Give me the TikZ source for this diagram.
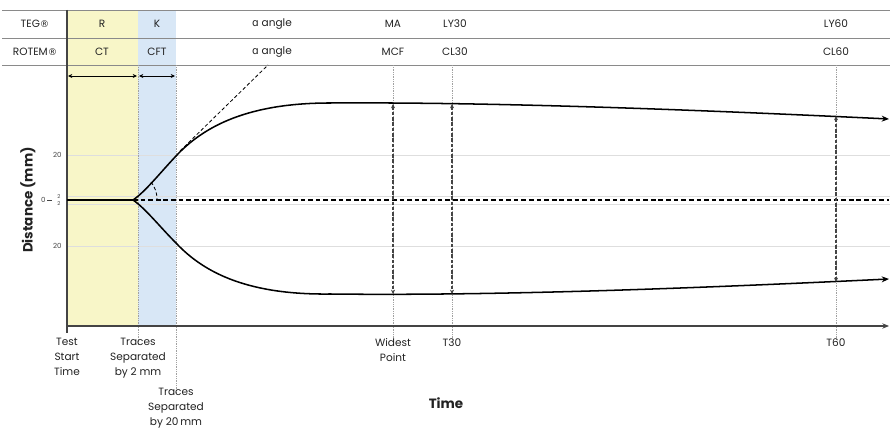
\documentclass[tikz,border=0pt]{standalone}
\usepackage{fontspec}
\setmainfont{Poppins}
\newfontfamily\greekfont{DejaVu Sans}
\usetikzlibrary{arrows.meta,positioning,calc}
\definecolor{BandYellow}{HTML}{F8F6C8}
\definecolor{BandBlue}{HTML}{D8E7F6}
\definecolor{RuleGrey}{HTML}{8A8A8A}
\definecolor{GridGrey}{HTML}{DEDEDE}
\definecolor{InkGrey}{HTML}{222222}
\definecolor{MarkGrey}{HTML}{444444}
\newcommand{\regmark}{{\greekfont\fontsize{8}{10}\selectfont ®}}

\begin{document}
\begin{tikzpicture}[
x=0.03cm, y=-0.03cm,
every node/.style={font=\fontsize{9}{12.5}\selectfont, text=InkGrey, align=center, inner sep=1pt},
ticklabel/.style={font=\fontsize{6}{7}\selectfont, text=MarkGrey},
tinylabel/.style={font=\fontsize{4.5}{5}\selectfont, text=MarkGrey, inner sep=0pt},
axistitle/.style={font=\fontsize{11.5}{14}\selectfont\bfseries},
tablerule/.style={draw=RuleGrey, line width=0.8pt},
gridline/.style={draw=GridGrey, line width=0.5pt},
guideline/.style={draw=RuleGrey!80, densely dotted, line width=0.5pt},
trace/.style={line width=1.3pt, line cap=round, -{Stealth[length=2.2mm, width=1.8mm]}},
span/.style={{Stealth[length=1.3mm, width=1.2mm]}-{Stealth[length=1.3mm, width=1.2mm]}, line width=0.5pt},
measure/.style={draw=MarkGrey, line width=0.9pt, dash pattern=on 3pt off 1.5pt, {Stealth[length=1.3mm, width=1.2mm]}-{Stealth[length=1.3mm, width=1.2mm]}},
zeroline/.style={line width=0.9pt, dash pattern=on 4pt off 2.5pt},
tangent/.style={line width=0.7pt, dash pattern=on 3pt off 2pt}
]
\useasboundingbox (0,0) rectangle (890,433);
\fill[BandYellow] (67,10) rectangle (138,326);
\fill[BandBlue] (138,10) rectangle (176,326);
\foreach \gy in {155,196,204,246} \draw[gridline] (67,\gy) -- (890,\gy);
\foreach \ry in {10,38,65} \draw[tablerule] (2,\ry) -- (890,\ry);
\draw[guideline] (138,65) -- (138,345);
\draw[guideline] (176,65) -- (176,392);
\foreach \gx in {393,452,836} \draw[guideline] (\gx,65) -- (\gx,341);

\node (teg) at (35,24) {TEG\regmark};
\node (rotem) at (35,52) {ROTEM\regmark};
\node (r) at (102,24) {R};
\node (k) at (157,24) {K};
\node (alphateg) at (272,24) {{\greekfont\char"0251} angle};
\node (ma) at (393,24) {MA};
\node (ly30) at (455,24) {LY30};
\node (ly60) at (836,24) {LY60};
\node (ct) at (102,52) {CT};
\node (cft) at (157,52) {CFT};
\node (alpharotem) at (272,52) {{\greekfont\char"0251} angle};
\node (mcf) at (393,52) {MCF};
\node (cl30) at (455,52) {CL30};
\node (cl60) at (836,52) {CL60};

\coordinate (rL) at (68,76);
\coordinate (rR) at (137,76);
\coordinate (kL) at (139,76);
\coordinate (kR) at (175,76);
\draw[span] (rL) -- (rR);
\draw[span] (kL) -- (kR);

\coordinate (origin) at (67,326);
\coordinate (timeEnd) at (889,326);
\coordinate (axisTop) at (67,10);
\coordinate (axisFoot) at (67,333);
\draw[draw=MarkGrey, line width=0.9pt] (axisTop) -- (axisFoot);
\draw[draw=MarkGrey, line width=0.9pt, -{Stealth[length=2mm, width=1.6mm]}] (origin) -- (timeEnd);

\node[ticklabel, anchor=east] (up20) at (63,155) {20};
\node[ticklabel, anchor=east] (lo20) at (63,246) {20};
\node[ticklabel, anchor=east] (zero) at (47,200) {0};
\draw[MarkGrey, line width=0.5pt] (zero.east) -- ++(5,0);
\node[tinylabel] (up2) at (59,196.5) {2};
\node[tinylabel] (lo2) at (59,203.5) {2};

\coordinate (zeroStart) at (67,200);
\coordinate (split) at (133,200);
\coordinate (zeroEnd) at (889,200);
\draw[zeroline] (split) -- (zeroEnd);
\draw[line width=1.3pt] (zeroStart) -- (split);

\coordinate (upK) at (176,156);
\coordinate (upFlat) at (330,103);
\coordinate (upEnd) at (889,119);
\coordinate (loK) at (176,243);
\coordinate (loFlat) at (330,294);
\coordinate (loEnd) at (889,279);
\draw[trace] (split) .. controls (145,192) and (160,173) .. (upK)
  .. controls (205,125) and (250,103) .. (upFlat)
  .. controls (500,102) and (700,110) .. (upEnd);
\draw[trace] (split) .. controls (145,208) and (160,227) .. (loK)
  .. controls (205,274) and (250,295) .. (loFlat)
  .. controls (500,296) and (700,288) .. (loEnd);

\coordinate (tanFoot) at (180,151);
\coordinate (tanHead) at (268,65);
\draw[tangent] (tanFoot) -- (tanHead);
\coordinate (arcA) at (151,182);
\coordinate (arcB) at (157,199);
\draw[tangent] (arcA) .. controls (155,187) and (157,193) .. (arcB);

\coordinate (maTop) at (393,104);
\coordinate (maBot) at (393,294);
\coordinate (t30Top) at (452,104);
\coordinate (t30Bot) at (452,294);
\coordinate (t60Top) at (836,116);
\coordinate (t60Bot) at (836,282);
\draw[measure] (maTop) -- (maBot);
\draw[measure] (t30Top) -- (t30Bot);
\draw[measure] (t60Top) -- (t60Bot);

\node[anchor=north] (teststart) at (67,337) {Test\\Start\\Time};
\node[anchor=north] (sep2) at (138,337) {Traces\\Separated\\by 2 mm};
\node[anchor=north] (sep20) at (176,387) {Traces\\Separated\\by 20\,mm};
\node[anchor=north] (widest) at (393,337) {Widest\\Point};
\node[anchor=north] (t30) at (452,337) {T30};
\node[anchor=north] (t60) at (836,337) {T60};
\node[axistitle] (time) at (446,403) {Time};
\node[axistitle, rotate=90] (distance) at (28,200) {Distance (mm)};
\end{tikzpicture}
\end{document}
